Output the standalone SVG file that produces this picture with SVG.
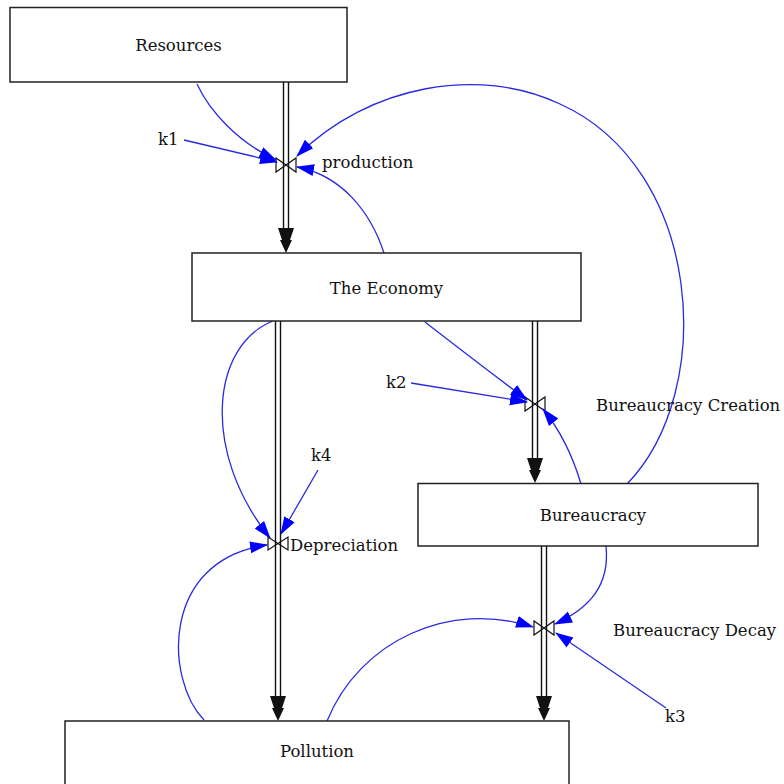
<svg xmlns="http://www.w3.org/2000/svg" width="784" height="784" viewBox="0 0 784 784">
<defs>
<style>
.box{fill:#fff;stroke:#222;stroke-width:1.5}
.lbl{font-family:"DejaVu Serif","Liberation Serif",serif;font-size:16.5px;fill:#111}
.pipe{stroke:#111;stroke-width:1.4;fill:none}
.valve{fill:none;stroke:#111;stroke-width:1.2}
.link{fill:none;stroke:#2a2ae0;stroke-width:1.3}
.head{fill:#111}
</style>
<marker id="ba" markerUnits="userSpaceOnUse" markerWidth="18" markerHeight="14" viewBox="0 0 18 14" refX="17" refY="7" orient="auto">
<path d="M0,1 L18,7 L0,13 Z" fill="#0000ff"/>
</marker>
</defs>
<rect width="784" height="784" fill="#fff"/>

<g id="flows">
<g id="flow-production">
<line class="pipe" x1="283.5" y1="82" x2="283.5" y2="232"/>
<line class="pipe" x1="288.5" y1="82" x2="288.5" y2="232"/>
<path class="head" d="M278,228 L294,228 L290,240 L292,240 L286,253 L280,240 L282,240 Z"/>
<path class="valve" d="M276,158 L276,172 L286,165 Z M296,158 L296,172 L286,165 Z"/>
</g>
<g id="flow-depreciation">
<line class="pipe" x1="275.5" y1="321" x2="275.5" y2="700"/>
<line class="pipe" x1="280.5" y1="321" x2="280.5" y2="700"/>
<path class="head" d="M270,696 L286,696 L282,708 L284,708 L278,721 L272,708 L274,708 Z"/>
<path class="valve" d="M268,537 L268,550 L278,543.5 Z M288,537 L288,550 L278,543.5 Z"/>
</g>
<g id="flow-creation">
<line class="pipe" x1="532.5" y1="321" x2="532.5" y2="463"/>
<line class="pipe" x1="537.5" y1="321" x2="537.5" y2="463"/>
<path class="head" d="M527,458 L543,458 L539,470 L541,470 L535,483 L529,470 L531,470 Z"/>
<path class="valve" d="M525,397 L525,411 L535,404 Z M545,397 L545,411 L535,404 Z"/>
</g>
<g id="flow-decay">
<line class="pipe" x1="541.5" y1="546" x2="541.5" y2="700"/>
<line class="pipe" x1="546.5" y1="546" x2="546.5" y2="700"/>
<path class="head" d="M536,696 L552,696 L548,708 L550,708 L544,721 L538,708 L540,708 Z"/>
<path class="valve" d="M534,621 L534,635 L544,628 Z M554,621 L554,635 L544,628 Z"/>
</g>
</g>

<g id="connectors">
<path class="link" marker-end="url(#ba)" d="M197,84 C210,112 238,142 276,160"/>
<path class="link" marker-end="url(#ba)" d="M184,140 L277,162"/>
<path class="link" marker-end="url(#ba)" d="M627,484 C718,390 702,168 560,104 C480,66 370,84 297,156"/>
<path class="link" marker-end="url(#ba)" d="M384,253 C370,210 340,175 297,167"/>
<path class="link" marker-end="url(#ba)" d="M425,322 Q470,357 527,400"/>
<path class="link" marker-end="url(#ba)" d="M411,383 L527,402"/>
<path class="link" marker-end="url(#ba)" d="M581,484 Q568,440 543,409"/>
<path class="link" marker-end="url(#ba)" d="M273,321 C212,345 200,450 270,538"/>
<path class="link" marker-end="url(#ba)" d="M318,470 L281,534"/>
<path class="link" marker-end="url(#ba)" d="M204,720 C165,680 160,560 267,545"/>
<path class="link" marker-end="url(#ba)" d="M606,546 C610,585 590,608 555,624"/>
<path class="link" marker-end="url(#ba)" d="M666,708 L556,633"/>
<path class="link" marker-end="url(#ba)" d="M327,721 C360,640 450,600 533,627"/>
</g>

<g id="resources"><rect class="box" x="10" y="7.5" width="337" height="74.5"/><text class="lbl" x="178.5" y="51" text-anchor="middle">Resources</text></g>
<g id="economy"><rect class="box" x="192" y="253" width="389" height="68"/><text class="lbl" x="386.5" y="294" text-anchor="middle">The Economy</text></g>
<g id="bureaucracy"><rect class="box" x="418" y="483.5" width="340" height="62.5"/><text class="lbl" x="593" y="521" text-anchor="middle">Bureaucracy</text></g>
<g id="pollution"><rect class="box" x="65" y="721" width="504" height="70"/><text class="lbl" x="317" y="757" text-anchor="middle">Pollution</text></g>

<g id="k1"><text class="lbl" x="158" y="145">k1</text></g>
<g id="k2"><text class="lbl" x="386" y="388">k2</text></g>
<g id="k4"><text class="lbl" x="311" y="461">k4</text></g>
<g id="k3"><text class="lbl" x="665" y="722">k3</text></g>
<g id="lbl-production"><text class="lbl" x="322" y="168">production</text></g>
<g id="lbl-creation"><text class="lbl" x="596" y="411">Bureaucracy Creation</text></g>
<g id="lbl-depreciation"><text class="lbl" x="290" y="551">Depreciation</text></g>
<g id="lbl-decay"><text class="lbl" x="613" y="636">Bureaucracy Decay</text></g>
</svg>
